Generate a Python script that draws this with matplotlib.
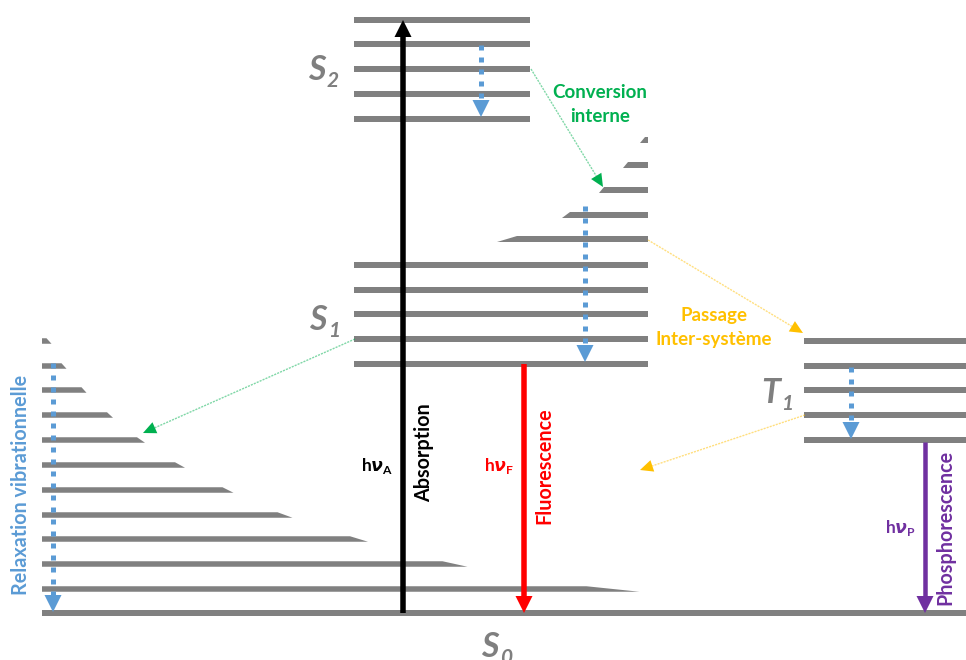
import matplotlib
matplotlib.use('Agg')
import matplotlib.pyplot as plt
from matplotlib.patches import Polygon
import math

plt.rcParams['font.family'] = ['Lato', 'DejaVu Sans']
plt.rcParams['mathtext.fontset'] = 'custom'
plt.rcParams['mathtext.rm'] = 'Lato:bold'
plt.rcParams['mathtext.bf'] = 'Lato:bold'
plt.rcParams['mathtext.it'] = 'DejaVu Sans:italic:bold'

# ---------------- data (pixel-space diagram coordinates) ----------------
S0_y = 613
S0_x = (42, 966)
S0_vib_y = [341, 366, 390, 415, 440, 465, 490, 515, 539, 564, 589]
S0_vib_end = [49, 64, 84, 110, 141, 180, 228, 285, 359, 455, 613]
S0_vib_slant = [5, 5, 5, 6, 8, 10, 11, 15, 18, 25, 53]

S1_y = [265, 290, 314, 339, 364]
S1_x = (354, 648)
S1_hot_y = [140, 165, 190, 215, 239]
S1_hot_start = [642, 625, 601, 566, 507]
S1_hot_slant = [5, 5, 5, 8, 20]

S2_y = [20, 44, 69, 94, 119]
S2_x = (354, 530)

T1_y = [341, 366, 390, 415, 440]
T1_x = (804, 966)

# radiative transitions: (x, y_from, y_to, colour, width_px)
radiative = [
    (403, 613, 20, '#000000', 5.5),
    (524, 364, 613, '#FF0000', 5.5),
    (925, 442, 613, '#7030A0', 4.5),
]
# vibrational relaxation (dotted): (x, y_from, y_to)
relax = [
    (481, 45, 117),
    (585, 206, 362),
    (851, 367, 439),
    (53, 363, 612),
]
# non-radiative crossings: (x0, y0, x1, y1, colour)
crossings = [
    (531, 69, 603, 187, '#00B050'),
    (355, 339, 143, 433, '#00B050'),
    (648, 240, 803, 333, '#FFC000'),
    (805, 415, 640, 470, '#FFC000'),
]

state_labels = [('S', '2', 326, 80), ('S', '1', 327, 330), ('T', '1', 780, 403), ('S', '0', 499, 657)]

GRAY = '#808080'
BLUE = '#5B9BD5'
BAR_H = 5.5

fig = plt.figure(figsize=(9.66, 6.6), dpi=100)
ax = fig.add_axes([0, 0, 1, 1])
ax.set_xlim(0, 966)
ax.set_ylim(660, 0)
ax.axis('off')


def bar(y, x0, x1):
    ax.add_patch(Polygon([(x0, y - BAR_H / 2), (x1, y - BAR_H / 2), (x1, y + BAR_H / 2), (x0, y + BAR_H / 2)],
                         closed=True, fc=GRAY, ec='none'))


def bar_right_slant(y, x0, mid, s):
    ax.add_patch(Polygon([(x0, y - BAR_H / 2), (mid - s / 2, y - BAR_H / 2), (mid + s / 2, y + BAR_H / 2),
                          (x0, y + BAR_H / 2)], closed=True, fc=GRAY, ec='none'))


def bar_left_slant(y, mid, x1, s):
    ax.add_patch(Polygon([(mid + s / 2, y - BAR_H / 2), (x1, y - BAR_H / 2), (x1, y + BAR_H / 2),
                          (mid - s / 2, y + BAR_H / 2)], closed=True, fc=GRAY, ec='none'))


# levels
bar(S0_y, *S0_x)
for y, e, s in zip(S0_vib_y, S0_vib_end, S0_vib_slant):
    bar_right_slant(y, S0_x[0], e, s)
for y in S1_y:
    bar(y, *S1_x)
for y, st, s in zip(S1_hot_y, S1_hot_start, S1_hot_slant):
    bar_left_slant(y, st, S1_x[1], s)
for y in S2_y:
    bar(y, *S2_x)
for y in T1_y:
    bar(y, *T1_x)


def head(x, y_tip, direction, color, length=17, width=17):
    base = y_tip - direction * length
    ax.add_patch(Polygon([(x - width / 2, base), (x + width / 2, base), (x, y_tip)], closed=True,
                         fc=color, ec='none', zorder=5))
    return base


px2pt = 72 / 100.0
for x, y0, y1, c, w in radiative:
    d = 1 if y1 > y0 else -1
    base = head(x, y1, d, c)
    ax.plot([x, x], [y0, base + d * 1], color=c, lw=w * px2pt, solid_capstyle='butt', zorder=4)

for x, y0, y1 in relax:
    base = head(x, y1, 1, BLUE)
    ax.plot([x, x], [y0, base], color=BLUE, lw=5 * px2pt, linestyle=(0, (1, 1.4)),
            dash_capstyle='butt', zorder=4)

for x0, y0, x1, y1, c in crossings:
    dx, dy = x1 - x0, y1 - y0
    L = math.hypot(dx, dy)
    ux, uy = dx / L, dy / L
    hl, hw = 13, 12
    bx, by = x1 - ux * hl, y1 - uy * hl
    ax.plot([x0, bx], [y0, by], color=c, lw=1.0, alpha=0.5, linestyle=(0, (1.5, 0.8)), zorder=3)
    ax.add_patch(Polygon([(x1, y1), (bx - uy * hw / 2, by + ux * hw / 2), (bx + uy * hw / 2, by - ux * hw / 2)],
                         closed=True, fc=c, ec='none', zorder=5))

# state labels
for letter, sub, x, yb in state_labels:
    ax.text(x, yb, letter, color='#7F7F7F', fontsize=24.5, fontweight='bold', fontstyle='italic',
            ha='right', va='baseline')
    ax.text(x + 1, yb + 7, sub, color='#7F7F7F', fontsize=15, fontweight='bold', fontstyle='italic',
            ha='left', va='baseline')

FS = 13.5
FR = 14.2
ax.text(600, 93, 'Conversion', color='#00B050', fontsize=FS, fontweight='bold', ha='center', va='center')
ax.text(600, 116, 'interne', color='#00B050', fontsize=FS, fontweight='bold', ha='center', va='center')
ax.text(714, 315, 'Passage', color='#FFC000', fontsize=FS, fontweight='bold', ha='center', va='center')
ax.text(714, 340, 'Inter-système', color='#FFC000', fontsize=FS, fontweight='bold', ha='center', va='center')

ax.text(424, 453, 'Absorption', color='black', fontsize=FR, fontweight='bold', rotation=90,
        ha='center', va='center')
ax.text(544, 466, 'Fluorescence', color='#FF0000', fontsize=FR, fontweight='bold', rotation=90,
        ha='center', va='center')
ax.text(945, 527, 'Phosphorescence', color='#7030A0', fontsize=FR, fontweight='bold', rotation=90,
        ha='center', va='center')
ax.text(21, 485, 'Relaxation vibrationnelle', color=BLUE, fontsize=FR, fontweight='bold', rotation=90,
        ha='center', va='center')

ax.text(361, 471, r'$\mathrm{h}\nu_{\mathrm{A}}$', color='black', fontsize=12.5, ha='left', va='baseline')
ax.text(484, 471, r'$\mathrm{h}\nu_{\mathrm{F}}$', color='#FF0000', fontsize=12.5, ha='left', va='baseline')
ax.text(885, 533, r'$\mathrm{h}\nu_{\mathrm{P}}$', color='#7030A0', fontsize=12.5, ha='left', va='baseline')

fig.savefig('out.png', dpi=100, facecolor='white')
